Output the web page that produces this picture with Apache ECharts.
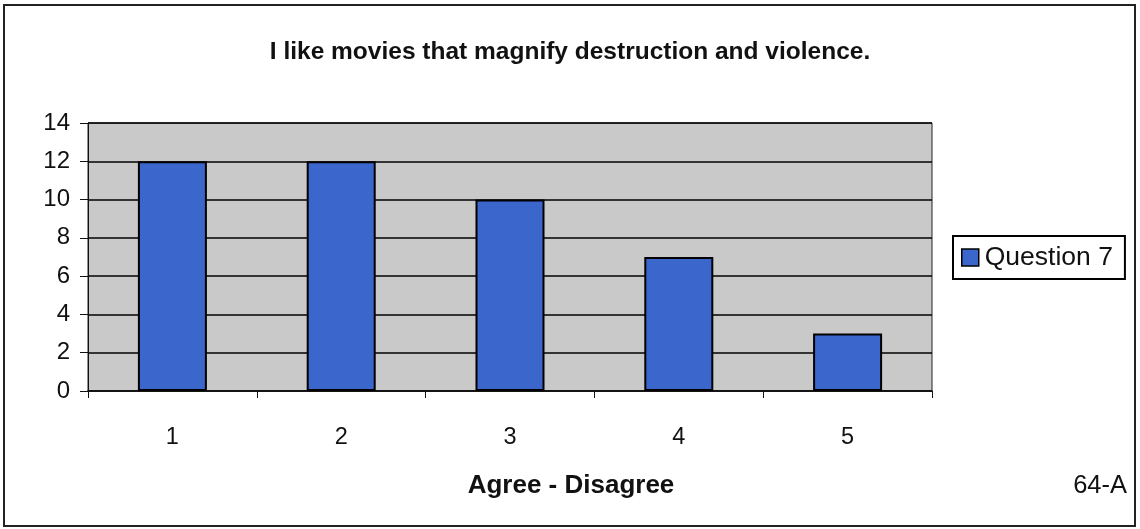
<!DOCTYPE html>
<html><head><meta charset="utf-8">
<script src="https://cdn.jsdelivr.net/npm/echarts@6/dist/echarts.min.js"></script>
<style>html,body{margin:0;padding:0;background:#fff}#c{width:1140px;height:529px}</style>
</head><body><div id="c"></div>
<script>
const categories = ['1', '2', '3', '4', '5'];
const values = [12, 12, 10, 7, 3];
const seriesName = 'Question 7';
const titleText = 'I like movies that magnify destruction and violence.';
const xName = 'Agree - Disagree';
const pageTag = '64-A';

const FF = 'Liberation Sans, Arial, sans-serif';
const chart = echarts.init(document.getElementById('c'));
chart.setOption({
  animation: false,
  backgroundColor: '#fff',
  textStyle: { fontFamily: FF },
  title: {
    text: titleText, left: 'center', top: 35,
    textStyle: { fontSize: 24.5, fontWeight: 'bold', color: '#111', fontFamily: FF }
  },
  legend: {
    data: [seriesName], left: 953, top: 236,
    padding: [8, 12, 8, 8], borderColor: '#000', borderWidth: 2,
    itemWidth: 17, itemHeight: 17, itemGap: 4,
    icon: 'rect',
    itemStyle: { borderColor: '#000', borderWidth: 1.5 },
    textStyle: { fontSize: 26.5, color: '#111', padding: [0, 0, 0, 1], fontFamily: FF }
  },
  grid: { left: 88, right: 208, top: 123, bottom: 138, show: true, backgroundColor: '#c9c9c9', borderColor: '#222', borderWidth: 1 },
  xAxis: {
    type: 'category', data: categories,
    axisLine: { lineStyle: { color: '#111', width: 1.5 } },
    axisTick: { show: true, length: 7, lineStyle: { color: '#111' } },
    axisLabel: { fontSize: 23.5, color: '#111', margin: 35, fontFamily: FF }
  },
  yAxis: {
    type: 'value', min: 0, max: 14, interval: 2,
    axisLine: { show: true, lineStyle: { color: '#111', width: 1 } },
    axisTick: { show: true, length: 8, lineStyle: { color: '#111' } },
    axisLabel: { fontSize: 24, color: '#111', margin: 18, fontFamily: FF },
    splitLine: { show: true, lineStyle: { color: '#000', width: 1.5, opacity: 1 } }
  },
  series: [{
    name: seriesName, type: 'bar', data: values, barWidth: 69,
    itemStyle: { color: '#3b66cc', borderColor: '#000', borderWidth: 2 }
  }],
  graphic: [
    { type: 'rect', shape: { x: 4, y: 5, width: 1131, height: 521 }, style: { fill: 'none', stroke: '#222', lineWidth: 2 }, silent: true, z: -1 },
    { type: 'text', x: 571, y: 486, style: { text: xName, fontSize: 26, fontWeight: 'bold', fill: '#111', align: 'center', verticalAlign: 'middle', fontFamily: FF } },
    { type: 'text', x: 1127, y: 486, style: { text: pageTag, fontSize: 25.5, fill: '#111', align: 'right', verticalAlign: 'middle', fontFamily: FF } }
  ]
});
</script></body></html>
